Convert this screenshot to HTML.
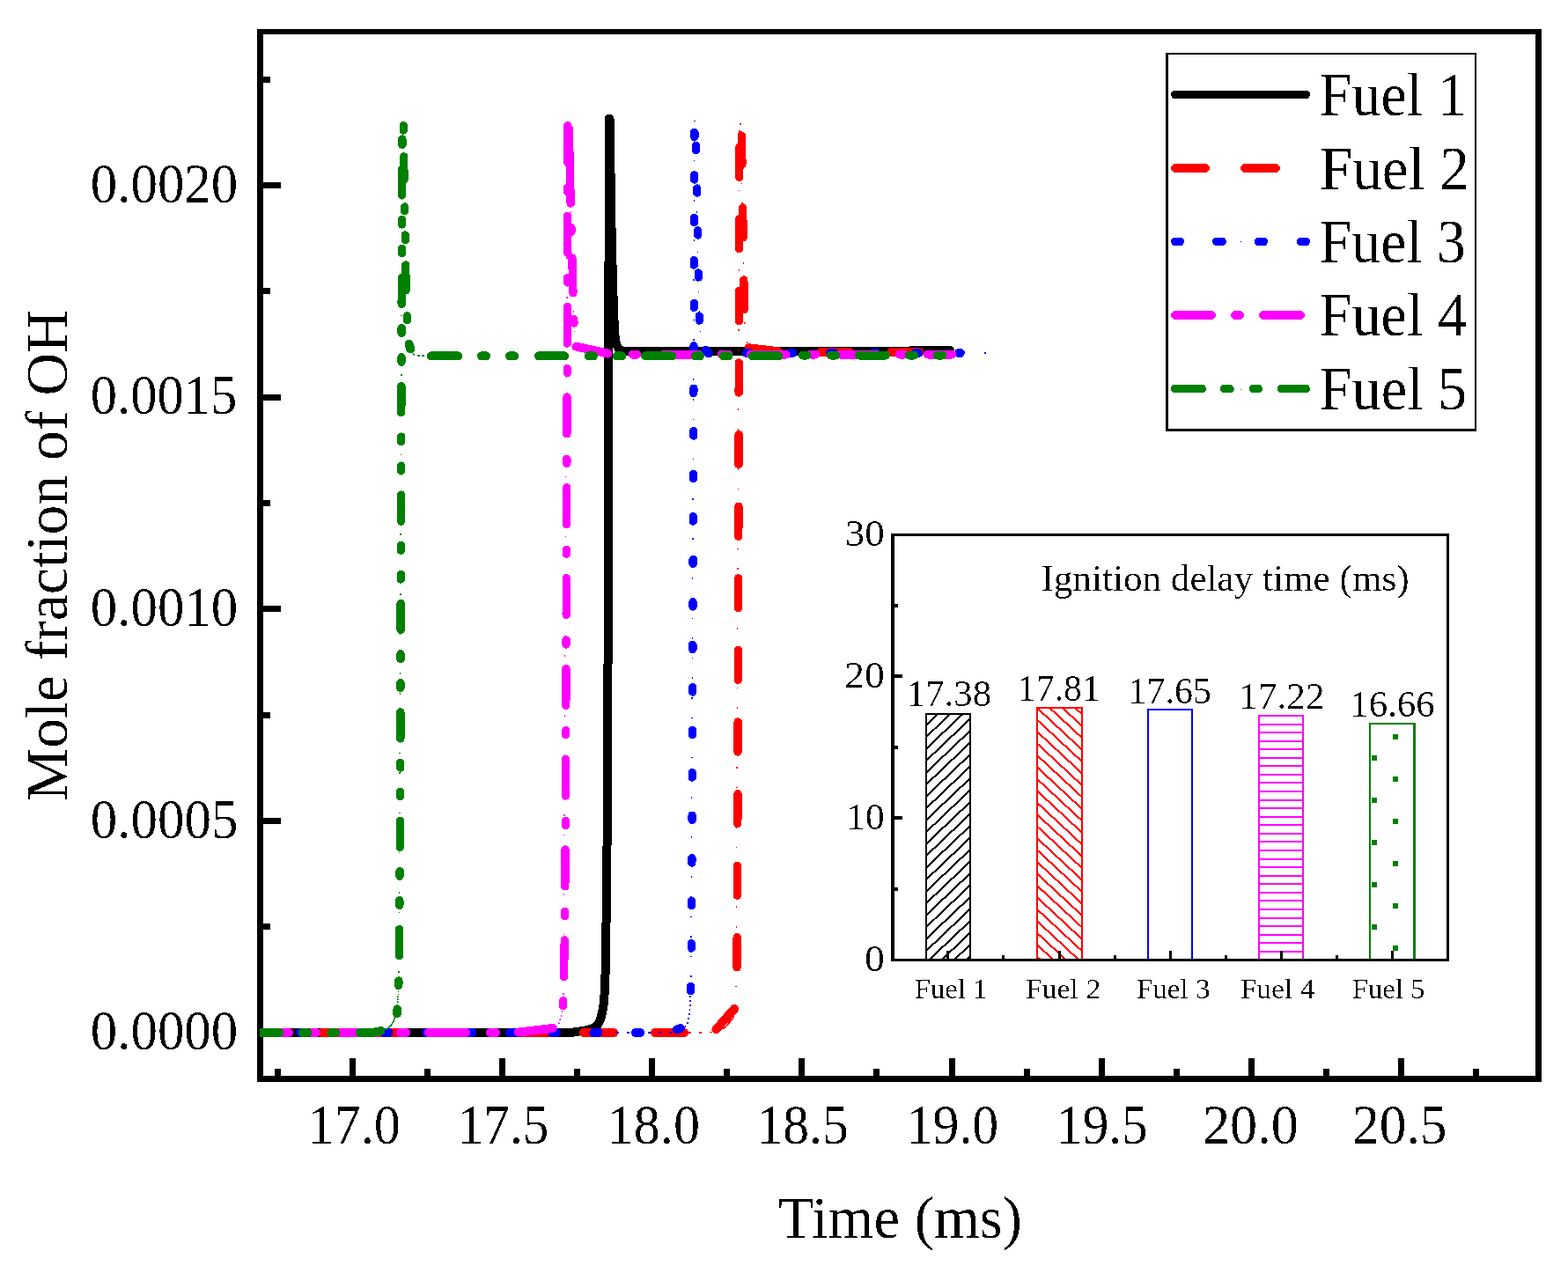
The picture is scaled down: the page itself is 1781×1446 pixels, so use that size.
<!DOCTYPE html>
<html lang="en"><head><meta charset="utf-8"><title>Mole fraction of OH vs Time</title>
<style>html,body{margin:0;padding:0;background:#fff;}svg{display:block;}text{font-family:"Liberation Serif", serif;fill:#000;filter:url(#bin);}</style></head><body>
<svg width="1781" height="1446" viewBox="0 0 1781 1446">
<rect x="0" y="0" width="1781" height="1446" fill="#fff"/>
<defs><filter id="bin" x="-5%" y="-20%" width="110%" height="140%" color-interpolation-filters="sRGB"><feComponentTransfer><feFuncA type="discrete" tableValues="0 0 0 0 0 0 0 1 1 1 1 1"/></feComponentTransfer></filter></defs>
<g fill="#000" shape-rendering="crispEdges">
<rect x="292" y="33" width="7" height="1196"/>
<rect x="1744" y="33" width="7" height="1196"/>
<rect x="292" y="33" width="1459" height="6"/>
<rect x="292" y="1222" width="1459" height="7"/>
<rect x="299" y="1170" width="20" height="7"/>
<rect x="299" y="929" width="20" height="7"/>
<rect x="299" y="688" width="20" height="7"/>
<rect x="299" y="448" width="20" height="7"/>
<rect x="299" y="207" width="20" height="7"/>
<rect x="299" y="1049" width="8" height="7"/>
<rect x="299" y="809" width="8" height="7"/>
<rect x="299" y="568" width="8" height="7"/>
<rect x="299" y="327" width="8" height="7"/>
<rect x="299" y="87" width="8" height="7"/>
<rect x="312" y="1214" width="7" height="8"/>
<rect x="397" y="1202" width="7" height="20"/>
<rect x="482" y="1214" width="7" height="8"/>
<rect x="567" y="1202" width="7" height="20"/>
<rect x="652" y="1214" width="7" height="8"/>
<rect x="737" y="1202" width="7" height="20"/>
<rect x="822" y="1214" width="7" height="8"/>
<rect x="907" y="1202" width="7" height="20"/>
<rect x="992" y="1214" width="7" height="8"/>
<rect x="1078" y="1202" width="7" height="20"/>
<rect x="1163" y="1214" width="7" height="8"/>
<rect x="1248" y="1202" width="7" height="20"/>
<rect x="1333" y="1214" width="7" height="8"/>
<rect x="1418" y="1202" width="7" height="20"/>
<rect x="1503" y="1214" width="7" height="8"/>
<rect x="1588" y="1202" width="7" height="20"/>
<rect x="1673" y="1214" width="7" height="8"/>
</g>
<text transform="translate(102.71,1192.26) scale(0.9750,1)" font-size="62.50">0.0000</text>
<text transform="translate(102.71,951.64) scale(0.9759,1)" font-size="62.50">0.0005</text>
<text transform="translate(102.71,711.01) scale(0.9750,1)" font-size="62.50">0.0010</text>
<text transform="translate(102.73,470.39) scale(0.9699,1)" font-size="62.50">0.0015</text>
<text transform="translate(102.71,229.76) scale(0.9750,1)" font-size="62.50">0.0020</text>
<text transform="translate(349.54,1299.06) scale(0.9620,1)" font-size="62.50">17.0</text>
<text transform="translate(519.72,1299.06) scale(0.9477,1)" font-size="62.50">17.5</text>
<text transform="translate(689.74,1299.06) scale(0.9620,1)" font-size="62.50">18.0</text>
<text transform="translate(859.49,1299.06) scale(0.9526,1)" font-size="62.50">18.5</text>
<text transform="translate(1029.67,1299.06) scale(0.9561,1)" font-size="62.50">19.0</text>
<text transform="translate(1200.12,1299.06) scale(0.9467,1)" font-size="62.50">19.5</text>
<text transform="translate(1365.90,1299.06) scale(0.9960,1)" font-size="62.50">20.0</text>
<text transform="translate(1536.04,1299.06) scale(0.9821,1)" font-size="62.50">20.5</text>
<text transform="translate(883.63,1405.54) scale(0.9870,1)" font-size="67.60">Time (ms)</text>
<text transform="translate(76.00,910.03) rotate(-90) scale(0.9954,1)" font-size="68.00">Mole fraction of OH</text>
<defs><clipPath id="pc"><rect x="295" y="36" width="1453" height="1190"/></clipPath></defs>
<g clip-path="url(#pc)" shape-rendering="crispEdges">
<path d="M280.0 1173.0 L640.0 1173.0 L651.0 1172.6 L664.5 1170.5 L674.0 1168.0 L679.0 1164.0 L682.0 1158.0 L684.0 1150.0 L685.5 1142.0 L686.5 1130.0 L687.2 1120.0 L688.2 1080.0 L689.0 1000.0 L690.3 900.0 L691.2 300.0 L692.1 292.0 L692.1 134.5 L692.5 134.5 L694.6 265.0 L696.2 327.0 L697.7 369.0 L698.8 385.0 L700.3 392.0 L702.5 396.0 L706.5 398.5 L712.0 398.8 L1034.0 398.8 L1036.0 397.8 L1079.0 397.8" fill="none" stroke="#000" stroke-width="10" stroke-linecap="round" stroke-linejoin="round"/>
<path d="M835.5 1144.0 L836.0 1140.0 L840.0 133.0 M841.0 140.0 L845.4 356.0 L847.0 385.0 L850.0 392.0" fill="none" stroke="#f00" stroke-width="1.4" stroke-dasharray="1.6 21"/>
<path d="M822.0 1169.0 L832.5 1157.0 L833.5 1150.0" fill="none" stroke="#f00" stroke-width="1.6"/>
<path d="M782.0 1173.0 L812.0 1172.5" fill="none" stroke="#f00" stroke-width="1.6" stroke-dasharray="3 9"/>
<path d="M839.8 201.2 L839.9 167.2 M839.6 282.8 L839.7 248.8 M839.4 364.4 L839.5 330.4 M839.2 446.0 L839.3 412.0 M839.0 527.6 L839.1 493.6 M838.8 609.2 L838.9 575.2 M838.6 690.8 L838.6 656.8 M838.3 772.4 L838.4 738.4 M838.1 854.0 L838.2 820.0 M837.8 935.6 L838.0 901.6 M837.4 1017.2 L837.6 983.2 M837.0 1098.8 L837.2 1064.8 M842.9 186.6 L842.4 154.0 M844.1 269.6 L843.6 236.0 M845.3 351.5 L844.8 318.0" fill="none" stroke="#f00" stroke-width="9.4" stroke-linecap="round"/>
<path d="M287.0 1173.0 L321.0 1173.0 M366.0 1173.0 L400.0 1173.0 M422.0 1173.0 L456.0 1173.0 M495.0 1173.0 L528.0 1173.0 M593.0 1173.0 L627.0 1173.0 M663.0 1173.0 L697.0 1173.0 M744.0 1173.0 L777.0 1173.0 M813.5 1169.3 L834.0 1146.0 M850.5 395.2 L884.0 399.3 M932.4 400.0 L964.5 400.0 M1012.4 400.0 L1044.5 400.0" fill="none" stroke="#f00" stroke-width="10" stroke-linecap="round" stroke-linejoin="round"/>
<path d="M784.8 1110.0 L788.9 133.0 M789.5 150.0 L794.6 369.0 L797.0 388.0 L800.0 396.0" fill="none" stroke="#00f" stroke-width="1.4" stroke-dasharray="1.6 21"/>
<path d="M700.0 1173.0 L764.0 1173.0" fill="none" stroke="#00f" stroke-width="1.6" stroke-dasharray="3 9"/>
<path d="M778.0 1167.0 L781.0 1162.0 L783.0 1152.0 L784.0 1140.0 L784.5 1125.0" fill="none" stroke="#00f" stroke-width="1.6" stroke-dasharray="2 3"/>
<path d="M788.8 155.5 L788.8 150.3 M788.6 204.0 L788.6 198.8 M788.5 252.5 L788.5 247.3 M788.3 301.0 L788.3 295.8 M788.2 349.5 L788.2 344.3 M788.0 398.0 L788.0 392.8 M787.8 446.5 L787.9 441.3 M787.7 495.0 L787.7 489.8 M787.5 543.5 L787.5 538.3 M787.3 592.0 L787.3 586.8 M787.1 640.5 L787.2 635.3 M787.0 689.0 L787.0 683.8 M786.8 737.5 L786.8 732.3 M786.6 786.0 L786.7 780.8 M786.5 834.5 L786.5 829.3 M786.3 883.0 L786.3 877.8 M786.1 931.5 L786.1 926.3 M785.8 980.0 L785.9 974.8 M785.6 1028.5 L785.7 1023.3 M785.4 1077.0 L785.4 1071.8 M784.5 1125.5 L784.6 1120.3 M790.7 170.5 L790.6 165.5 M791.7 219.0 L791.6 214.0 M792.6 267.0 L792.5 262.0 M793.5 315.0 L793.4 310.0 M794.5 364.0 L794.4 359.0" fill="none" stroke="#00f" stroke-width="9.4" stroke-linecap="round"/>
<path d="M293.6 1173.0 L298.6 1173.0 M341.2 1173.0 L346.2 1173.0 M388.8 1173.0 L393.8 1173.0 M436.4 1173.0 L441.4 1173.0 M484.0 1173.0 L489.0 1173.0 M531.6 1173.0 L536.6 1173.0 M579.2 1173.0 L584.2 1173.0 M626.8 1173.0 L631.8 1173.0 M674.4 1173.0 L679.4 1173.0 M722.0 1173.0 L727.0 1173.0 M768.7 1169.5 L772.9 1168.0 M801.5 397.6 L804.8 401.5 M847.8 401.0 L850.5 401.0 M897.0 401.0 L900.3 401.0 M943.0 401.0 L947.0 401.0 M992.0 401.0 L995.0 401.0 M1039.8 401.0 L1043.0 401.0 M1088.9 401.0 L1090.8 401.0" fill="none" stroke="#00f" stroke-width="10" stroke-linecap="round" stroke-linejoin="round"/>
<rect x="1118" y="400" width="2" height="2" fill="#00f"/>
<path d="M639.9 1130.0 L644.8 137.0 M646.0 150.0 L652.0 372.0 L653.0 388.0" fill="none" stroke="#f0f" stroke-width="1.4" stroke-dasharray="1.6 21"/>
<path d="M632.0 1167.0 L635.5 1161.0 L637.5 1154.0 L638.8 1147.0" fill="none" stroke="#f0f" stroke-width="1.6" stroke-dasharray="2 2.5"/>
<path d="M639.6 1142.7 L639.7 1136.6 M640.4 1109.6 L641.3 1067.9 M641.5 1040.4 L641.6 1035.4 M641.8 1006.8 L642.1 965.1 M642.3 937.6 L642.4 932.6 M642.5 904.0 L642.6 862.3 M642.7 834.8 L642.7 829.8 M642.8 801.2 L643.0 759.5 M643.1 732.0 L643.1 727.0 M643.2 698.4 L643.4 656.7 M643.5 629.2 L643.5 624.2 M643.6 595.6 L643.7 553.9 M643.8 526.4 L643.8 521.4 M643.9 492.8 L644.1 451.1 M644.2 423.6 L644.2 418.6 M644.3 390.0 L644.4 348.3 M644.5 320.8 L644.5 315.8 M644.6 287.2 L644.7 245.5 M644.7 218.0 L644.7 213.0 M644.7 184.4 L644.8 142.7 M648.2 231.0 L646.2 146.0 M649.0 263.3 L648.9 258.8 M650.9 332.8 L649.9 293.0 M651.9 367.0 L651.7 362.6" fill="none" stroke="#f0f" stroke-width="9.4" stroke-linecap="round"/>
<path d="M287.0 1173.0 L328.0 1173.0 M354.0 1173.0 L359.0 1173.0 M387.0 1173.0 L428.0 1173.0 M455.0 1173.0 L461.0 1173.0 M487.0 1173.0 L529.0 1173.0 M557.0 1173.0 L563.0 1173.0 M589.0 1172.6 L627.5 1168.0 M654.5 393.6 L690.5 401.6 M718.7 402.6 L723.4 402.6 M753.8 402.6 L793.0 402.6 M819.8 402.6 L827.0 402.6 M852.7 402.6 L892.6 402.6 M921.0 402.6 L926.0 402.6 M954.8 402.6 L995.0 402.6 M1022.2 402.6 L1027.0 402.6 M1054.0 402.6 L1081.0 402.6" fill="none" stroke="#f0f" stroke-width="10" stroke-linecap="round" stroke-linejoin="round"/>
<path d="M453.1 1105.0 L457.0 137.0" fill="none" stroke="#008000" stroke-width="1.4" stroke-dasharray="1.6 21"/>
<path d="M434.0 1171.0 L440.0 1168.5 L444.5 1164.5 L447.5 1159.0 L449.5 1152.0" fill="none" stroke="#008000" stroke-width="1.6"/>
<path d="M452.0 1139.0 L452.5 1126.0" fill="none" stroke="#008000" stroke-width="1.6" stroke-dasharray="1.5 1.5"/>
<path d="M466.5 397.0 L468.5 401.5 L472.0 403.8 L486.0 404.4" fill="none" stroke="#008000" stroke-width="1.6" stroke-dasharray="3 2.5"/>
<path d="M451.0 1151.6 L451.2 1146.0 M452.8 1119.6 L452.9 1114.0 M453.3 1085.7 L453.6 1055.7 M453.8 1028.2 L453.8 1022.7 M454.0 995.4 L454.1 989.7 M454.3 962.3 L454.5 932.3 M454.6 904.8 L454.6 899.3 M454.7 872.0 L454.7 866.3 M454.8 838.9 L454.8 808.9 M454.9 781.4 L454.9 775.9 M455.0 748.6 L455.0 742.9 M455.1 715.5 L455.2 685.5 M455.3 658.0 L455.3 652.5 M455.4 625.2 L455.4 619.5 M455.5 592.1 L455.6 562.1 M455.6 534.6 L455.6 529.1 M455.7 501.8 L455.7 496.1 M455.8 468.7 L455.9 438.7 M456.0 411.2 L456.0 405.7 M456.1 378.4 L456.1 372.7 M456.2 345.3 L456.3 315.3 M456.4 287.8 L456.4 282.3 M456.5 255.0 L456.5 249.3 M456.6 221.9 L456.8 191.9 M456.9 164.4 L456.9 158.9 M456.9 162.7 L456.9 158.0 M458.3 148.0 L458.3 142.6 M458.9 204.2 L458.7 177.9 M459.7 239.5 L459.6 235.0 M460.4 272.7 L460.3 267.0 M461.0 329.7 L460.7 301.0 M462.7 363.5 L462.5 359.0" fill="none" stroke="#008000" stroke-width="9.4" stroke-linecap="round"/>
<path d="M287.0 1173.0 L317.0 1173.0 M344.0 1173.0 L349.3 1173.0 M376.4 1173.0 L381.0 1173.0 M409.0 1173.0 L425.0 1172.6 L432.5 1171.0 M466.2 396.2 L464.5 390.8 M489.8 404.3 L520.1 404.3 M547.0 404.3 L552.0 404.3 M579.0 404.3 L584.2 404.3 M612.0 404.3 L641.2 404.3 M668.6 404.3 L674.0 404.3 M700.9 404.3 L706.2 404.3 M733.1 404.3 L763.2 404.3 M790.0 404.3 L795.0 404.3 M821.9 404.3 L827.3 404.3 M854.8 404.3 L884.2 404.3 M911.7 403.5 L916.2 403.5 M944.0 403.5 L949.0 403.5 M976.3 403.5 L1005.9 403.5 M1033.0 403.5 L1037.9 403.5 M1065.0 403.5 L1070.2 403.5" fill="none" stroke="#008000" stroke-width="10" stroke-linecap="round" stroke-linejoin="round"/>
</g>
<g shape-rendering="crispEdges"><rect x="1324" y="60" width="353" height="430" fill="#fff"/><rect x="1324" y="60" width="3" height="430"/><rect x="1675" y="60" width="2" height="430"/><rect x="1324" y="60" width="353" height="2"/><rect x="1324" y="487" width="353" height="3"/></g>
<path d="M1334.8 107.4 H1483.2" fill="none" stroke="#000" stroke-width="9.6" stroke-linecap="round" shape-rendering="crispEdges"/>
<path d="M1334.8 191.0 H1369.2 M1413.8 191.0 H1449.2" fill="none" stroke="#f00" stroke-width="9.6" stroke-linecap="round" shape-rendering="crispEdges"/>
<path d="M1334.8 274.4 H1340.2 M1381.9 274.4 H1388.1 M1429.6 274.4 H1435.2 M1477.6 274.4 H1483.2" fill="none" stroke="#00f" stroke-width="9.6" stroke-linecap="round" shape-rendering="crispEdges"/>
<rect x="1409" y="274" width="1" height="1" fill="#00f"/>
<path d="M1334.8 358.0 H1376.2 M1402.8 358.0 H1408.2 M1434.8 358.0 H1477.2" fill="none" stroke="#f0f" stroke-width="9.6" stroke-linecap="round" shape-rendering="crispEdges"/>
<path d="M1334.8 441.6 H1365.2 M1390.8 441.6 H1396.9 M1423.4 441.6 H1429.2 M1455.8 441.6 H1483.2" fill="none" stroke="#008000" stroke-width="9.6" stroke-linecap="round" shape-rendering="crispEdges"/>
<rect x="1409" y="442" width="1" height="1" fill="#008000"/>
<text transform="translate(1498.72,131.21) scale(0.9606,1)" font-size="68.80">Fuel 1</text>
<text transform="translate(1498.68,214.61) scale(0.9789,1)" font-size="68.80">Fuel 2</text>
<text transform="translate(1498.73,298.01) scale(0.9552,1)" font-size="68.80">Fuel 3</text>
<text transform="translate(1498.71,381.41) scale(0.9620,1)" font-size="68.80">Fuel 4</text>
<text transform="translate(1498.71,464.81) scale(0.9635,1)" font-size="68.80">Fuel 5</text>
<defs>
<clipPath id="bc0"><rect x="1052" y="811" width="50" height="279"/></clipPath>
<clipPath id="bc1"><rect x="1178" y="804" width="51" height="286"/></clipPath>
<clipPath id="bc2"><rect x="1304" y="806" width="50" height="284"/></clipPath>
<clipPath id="bc3"><rect x="1430" y="813" width="50" height="277"/></clipPath>
<clipPath id="bc4"><rect x="1556" y="822" width="51" height="268"/></clipPath>
</defs>
<path d="M1045.0 749.2 L1110.0 687.4 M1045.0 762.7 L1110.0 700.9 M1045.0 776.2 L1110.0 714.4 M1045.0 789.7 L1110.0 727.9 M1045.0 803.2 L1110.0 741.4 M1045.0 816.7 L1110.0 754.9 M1045.0 830.2 L1110.0 768.4 M1045.0 843.7 L1110.0 781.9 M1045.0 857.2 L1110.0 795.4 M1045.0 870.7 L1110.0 808.9 M1045.0 884.2 L1110.0 822.4 M1045.0 897.7 L1110.0 835.9 M1045.0 911.2 L1110.0 849.4 M1045.0 924.7 L1110.0 862.9 M1045.0 938.2 L1110.0 876.4 M1045.0 951.7 L1110.0 889.9 M1045.0 965.2 L1110.0 903.4 M1045.0 978.7 L1110.0 916.9 M1045.0 992.2 L1110.0 930.4 M1045.0 1005.7 L1110.0 943.9 M1045.0 1019.2 L1110.0 957.4 M1045.0 1032.7 L1110.0 970.9 M1045.0 1046.2 L1110.0 984.4 M1045.0 1059.7 L1110.0 997.9 M1045.0 1073.2 L1110.0 1011.4 M1045.0 1086.7 L1110.0 1024.9 M1045.0 1100.2 L1110.0 1038.4 M1045.0 1113.7 L1110.0 1051.9 M1045.0 1127.2 L1110.0 1065.4 M1045.0 1140.7 L1110.0 1078.9 M1045.0 1154.2 L1110.0 1092.4" stroke="#000" stroke-width="2.1" fill="none" clip-path="url(#bc0)" shape-rendering="crispEdges"/>
<path d="M1170.0 716.0 L1236.0 777.4 M1170.0 729.5 L1236.0 790.9 M1170.0 742.9 L1236.0 804.3 M1170.0 756.4 L1236.0 817.8 M1170.0 769.8 L1236.0 831.2 M1170.0 783.3 L1236.0 844.7 M1170.0 796.7 L1236.0 858.1 M1170.0 810.2 L1236.0 871.6 M1170.0 823.6 L1236.0 885.0 M1170.0 837.1 L1236.0 898.5 M1170.0 850.5 L1236.0 911.9 M1170.0 864.0 L1236.0 925.4 M1170.0 877.4 L1236.0 938.8 M1170.0 890.9 L1236.0 952.3 M1170.0 904.3 L1236.0 965.7 M1170.0 917.8 L1236.0 979.2 M1170.0 931.2 L1236.0 992.6 M1170.0 944.7 L1236.0 1006.1 M1170.0 958.1 L1236.0 1019.5 M1170.0 971.6 L1236.0 1033.0 M1170.0 985.0 L1236.0 1046.4 M1170.0 998.5 L1236.0 1059.9 M1170.0 1011.9 L1236.0 1073.3 M1170.0 1025.4 L1236.0 1086.8 M1170.0 1038.8 L1236.0 1100.2 M1170.0 1052.3 L1236.0 1113.7 M1170.0 1065.7 L1236.0 1127.1 M1170.0 1079.2 L1236.0 1140.6" stroke="#f00" stroke-width="2.1" fill="none" clip-path="url(#bc1)" shape-rendering="crispEdges"/>
<g shape-rendering="crispEdges">
<rect x="1430" y="822" width="50" height="2" fill="#f0f"/>
<rect x="1430" y="831" width="50" height="2" fill="#f0f"/>
<rect x="1430" y="841" width="50" height="2" fill="#f0f"/>
<rect x="1430" y="850" width="50" height="2" fill="#f0f"/>
<rect x="1430" y="860" width="50" height="2" fill="#f0f"/>
<rect x="1430" y="869" width="50" height="2" fill="#f0f"/>
<rect x="1430" y="879" width="50" height="2" fill="#f0f"/>
<rect x="1430" y="888" width="50" height="2" fill="#f0f"/>
<rect x="1430" y="898" width="50" height="2" fill="#f0f"/>
<rect x="1430" y="908" width="50" height="2" fill="#f0f"/>
<rect x="1430" y="917" width="50" height="2" fill="#f0f"/>
<rect x="1430" y="927" width="50" height="2" fill="#f0f"/>
<rect x="1430" y="936" width="50" height="2" fill="#f0f"/>
<rect x="1430" y="946" width="50" height="2" fill="#f0f"/>
<rect x="1430" y="955" width="50" height="2" fill="#f0f"/>
<rect x="1430" y="965" width="50" height="2" fill="#f0f"/>
<rect x="1430" y="975" width="50" height="2" fill="#f0f"/>
<rect x="1430" y="984" width="50" height="2" fill="#f0f"/>
<rect x="1430" y="994" width="50" height="2" fill="#f0f"/>
<rect x="1430" y="1003" width="50" height="2" fill="#f0f"/>
<rect x="1430" y="1013" width="50" height="2" fill="#f0f"/>
<rect x="1430" y="1022" width="50" height="2" fill="#f0f"/>
<rect x="1430" y="1032" width="50" height="2" fill="#f0f"/>
<rect x="1430" y="1042" width="50" height="2" fill="#f0f"/>
<rect x="1430" y="1051" width="50" height="2" fill="#f0f"/>
<rect x="1430" y="1061" width="50" height="2" fill="#f0f"/>
<rect x="1430" y="1070" width="50" height="2" fill="#f0f"/>
<rect x="1430" y="1080" width="50" height="2" fill="#f0f"/>
<rect x="1582" y="834" width="6" height="6" fill="#008000"/>
<rect x="1558" y="858" width="6" height="6" fill="#008000"/>
<rect x="1582" y="882" width="6" height="6" fill="#008000"/>
<rect x="1558" y="906" width="6" height="6" fill="#008000"/>
<rect x="1582" y="930" width="6" height="6" fill="#008000"/>
<rect x="1558" y="954" width="6" height="6" fill="#008000"/>
<rect x="1582" y="978" width="6" height="6" fill="#008000"/>
<rect x="1558" y="1002" width="6" height="6" fill="#008000"/>
<rect x="1582" y="1026" width="6" height="6" fill="#008000"/>
<rect x="1558" y="1050" width="6" height="6" fill="#008000"/>
<rect x="1582" y="1074" width="6" height="6" fill="#008000"/>
<rect x="1051" y="810" width="2" height="280" fill="#000"/>
<rect x="1101" y="810" width="2" height="280" fill="#000"/>
<rect x="1051" y="810" width="52" height="2" fill="#000"/>
<rect x="1177" y="803" width="2" height="287" fill="#f00"/>
<rect x="1228" y="803" width="2" height="287" fill="#f00"/>
<rect x="1177" y="803" width="53" height="2" fill="#f00"/>
<rect x="1303" y="805" width="2" height="285" fill="#00f"/>
<rect x="1353" y="805" width="2" height="285" fill="#00f"/>
<rect x="1303" y="805" width="52" height="2" fill="#00f"/>
<rect x="1429" y="812" width="2" height="278" fill="#f0f"/>
<rect x="1479" y="812" width="2" height="278" fill="#f0f"/>
<rect x="1429" y="812" width="52" height="2" fill="#f0f"/>
<rect x="1555" y="821" width="2" height="269" fill="#008000"/>
<rect x="1605" y="821" width="3" height="269" fill="#008000"/>
<rect x="1555" y="821" width="53" height="2" fill="#008000"/>
</g>
<g fill="#000" shape-rendering="crispEdges">
<rect x="1012" y="606" width="4" height="486"/>
<rect x="1643" y="606" width="3" height="486"/>
<rect x="1012" y="606" width="634" height="3"/>
<rect x="1012" y="1089" width="634" height="3"/>
<rect x="1016" y="927" width="9" height="4"/>
<rect x="1016" y="766" width="9" height="4"/>
<rect x="1016" y="1008" width="4" height="4"/>
<rect x="1016" y="847" width="4" height="4"/>
<rect x="1016" y="686" width="4" height="4"/>
<rect x="1075" y="1080" width="3" height="9"/>
<rect x="1202" y="1080" width="3" height="9"/>
<rect x="1328" y="1080" width="3" height="9"/>
<rect x="1454" y="1080" width="3" height="9"/>
<rect x="1580" y="1080" width="3" height="9"/>
<rect x="1138" y="1085" width="3" height="4"/>
<rect x="1265" y="1085" width="3" height="4"/>
<rect x="1391" y="1085" width="3" height="4"/>
<rect x="1517" y="1085" width="3" height="4"/>
</g>
<text transform="translate(1029.75,802.38) scale(1.0319,1)" font-size="41.50">17.38</text>
<text transform="translate(1155.84,796.38) scale(1.0074,1)" font-size="41.50">17.81</text>
<text transform="translate(1281.53,798.78) scale(1.0104,1)" font-size="41.50">17.65</text>
<text transform="translate(1407.21,804.88) scale(1.0439,1)" font-size="41.50">17.22</text>
<text transform="translate(1533.46,813.88) scale(1.0294,1)" font-size="41.50">16.66</text>
<text transform="translate(1038.82,1134.08) scale(1.0302,1)" font-size="31.70">Fuel 1</text>
<text transform="translate(1164.89,1134.08) scale(1.0668,1)" font-size="31.70">Fuel 2</text>
<text transform="translate(1290.71,1134.08) scale(1.0462,1)" font-size="31.70">Fuel 3</text>
<text transform="translate(1408.69,1134.08) scale(1.0572,1)" font-size="31.70">Fuel 4</text>
<text transform="translate(1535.72,1134.08) scale(1.0321,1)" font-size="31.70">Fuel 5</text>
<text transform="translate(981.89,1103.29) scale(1.0999,1)" font-size="41.50">0</text>
<text transform="translate(961.20,942.29) scale(1.0465,1)" font-size="41.50">10</text>
<text transform="translate(959.15,781.29) scale(1.0978,1)" font-size="41.50">20</text>
<text transform="translate(959.66,620.29) scale(1.0850,1)" font-size="41.50">30</text>
<text transform="translate(1182.39,670.97) scale(1.0277,1)" font-size="42.00">Ignition delay time (ms)</text>
</svg></body></html>
